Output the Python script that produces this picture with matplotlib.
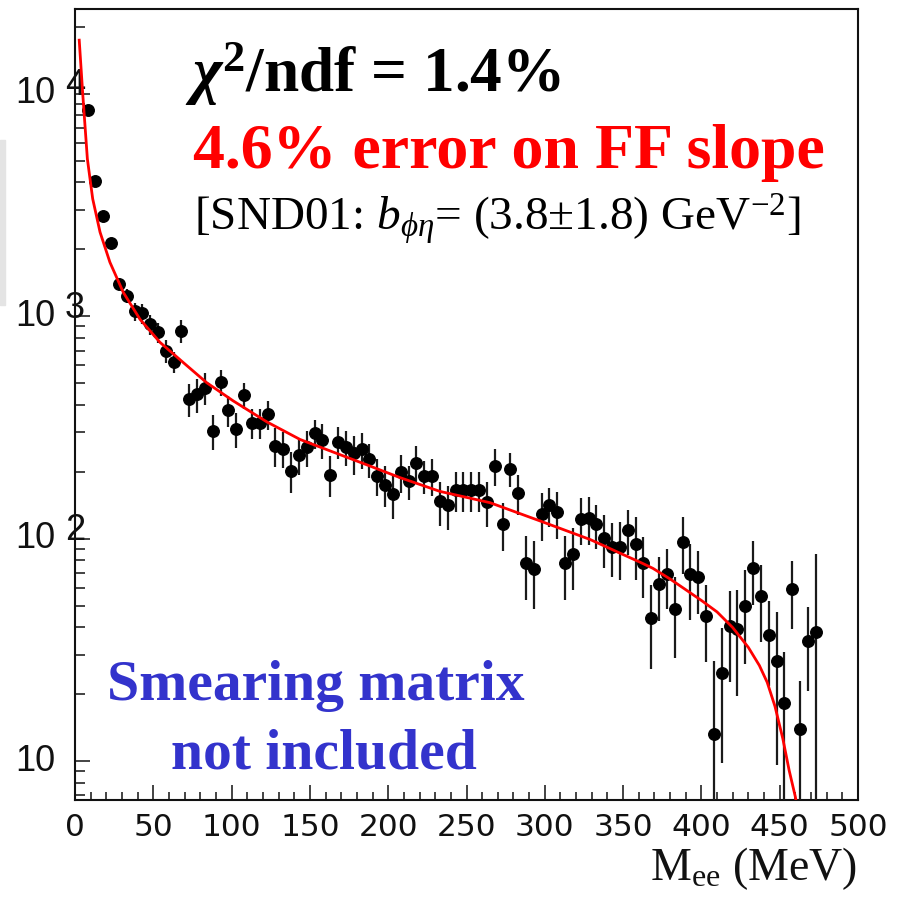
import matplotlib
matplotlib.use("Agg")
import matplotlib.pyplot as plt
import matplotlib.transforms as mtransforms
from matplotlib.patches import Rectangle
from matplotlib.ticker import MultipleLocator, LogLocator, NullFormatter, FixedLocator

# ---------------- data ----------------
mass = [8, 13, 18, 23, 28, 33, 38, 43, 48, 53, 58, 63, 68, 73, 78, 83, 88, 93, 98, 103,
        108, 113, 118, 123, 128, 133, 138, 143, 148, 153, 158, 163, 168, 173, 178, 183,
        188, 193, 198, 203, 208, 213, 218, 223, 228, 233, 238, 243, 248, 253, 258, 263,
        268, 273, 278, 283, 288, 293, 298, 303, 308, 313, 318, 323, 328, 333, 338, 343,
        348, 353, 358, 363, 368, 373, 378, 383, 388, 393, 398, 403, 408, 413, 418, 423,
        428, 433, 438, 443, 448, 453, 458, 463, 468, 473]
counts = [8470, 4064, 2833, 2133, 1393, 1233, 1050, 1028, 920, 845, 698, 622, 859, 423,
          445, 477, 304, 506, 378, 310, 441, 330, 330, 362, 261, 254, 202, 237, 258, 297,
          277, 194, 272, 258, 242, 252, 227, 192, 175, 159, 199, 181, 219, 191, 191, 147,
          141, 165, 166, 166, 166, 146, 213, 116, 206, 161, 78, 73, 129, 141, 131, 78, 85,
          123, 124, 116, 101, 92, 92, 109, 95, 78, 44, 62.5, 69, 48, 97, 69, 67, 45, 13.2,
          24.8, 40.3, 39.3, 49.9, 73.8, 55.3, 37, 28.3, 18.2, 59.3, 14, 34.8, 38.2]
errors = [150, 110, 85, 70, 87, 90, 98, 105, 96, 88, 80, 65, 98, 70, 79, 79, 54, 68, 59,
          55, 60, 51, 51, 55, 52, 46, 42, 44, 48, 45, 50, 41, 44, 46, 48, 47, 40, 36, 36,
          36, 39, 32, 41, 32, 36, 33, 32, 34, 34, 34, 34, 33, 40, 28, 36, 33, 25, 25, 31,
          28, 31, 25, 26, 29, 30, 26, 27, 25, 27, 25, 30, 24, 18, 20, 21, 19, 28, 26, 21,
          17, 15, 15, 17.6, 19.6, 22.6, 23.5, 21, 15.3, 18.7, 12.6, 20, 9, 14.2, 47]

fit_x = [2.7, 4.9, 7.9, 11.3, 16, 22.3, 30.8, 41.5, 54.3, 69.2, 84.1, 101, 122.4, 143.7,
         152, 186, 207.5, 233, 265, 297, 329, 348, 361, 369, 380, 390, 400, 410, 420,
         430, 437, 442, 447, 452, 456, 460, 462]
fit_y = [17400, 10070, 5090, 3367, 2384, 1746, 1280, 968, 762, 618, 502, 416, 335, 279,
         265, 215, 188, 163, 145, 120, 99, 86, 78.2, 73.5, 65.8, 58.9, 52.7, 46.8, 39.8,
         32.4, 26.9, 22.6, 17.6, 12.6, 9.1, 6.9, 5.75]

xtick_vals = [0, 50, 100, 150, 200, 250, 300, 350, 400, 450, 500]
ytick_vals = [10, 100, 1000, 10000]
ytick_exps = ["", "2", "3", "4"]

# ---------------- style ----------------
plt.rcParams['mathtext.fontset'] = 'custom'
plt.rcParams['mathtext.rm'] = 'Liberation Serif'
plt.rcParams['mathtext.it'] = 'Liberation Serif:italic'
plt.rcParams['mathtext.bf'] = 'Liberation Serif:bold'
plt.rcParams['mathtext.bfit'] = 'Liberation Serif:italic:bold'

W, H = 899, 897
fig = plt.figure(figsize=(W / 100, H / 100), dpi=100)


def fx(x):
    return x / W


def fy(y):
    return 1 - y / H


# light grey band at far left (slide artefact)
fig.patches.append(Rectangle((0, fy(305)), fx(5), (305 - 140) / H,
                             transform=fig.transFigure, color='#e4e4e4', zorder=0))

ax = fig.add_axes([fx(75), fy(800), (858 - 75) / W, (800 - 9.5) / H])
ax.set_yscale('log')
ax.set_xlim(0, 500)
ax.set_ylim(6.68, 23900)

ax.errorbar(mass, counts, yerr=errors, fmt='o', color='black', ecolor='#1a1a1a',
            elinewidth=1.6, markersize=8.3, capsize=0, zorder=3)
ax.plot(fit_x, fit_y, color='#ff0000', lw=2.0, zorder=4)

# axes frame
for s in ax.spines.values():
    s.set_linewidth(1.5)
    s.set_color('#111111')

ax.xaxis.set_major_locator(FixedLocator(xtick_vals))
ax.xaxis.set_minor_locator(MultipleLocator(10))
ax.tick_params(axis='x', which='major', direction='in', length=11, width=1.1,
               top=False, labelsize=22.5, pad=9, colors='#111111')
ax.tick_params(axis='x', which='minor', direction='in', length=6, width=1.1, top=False,
               colors='#111111')
for lab in ax.get_xticklabels():
    lab.set_fontfamily('DejaVu Sans')

ax.yaxis.set_major_locator(FixedLocator(ytick_vals))
ax.yaxis.set_minor_locator(LogLocator(base=10, subs=[2, 3, 4, 5, 6, 7, 8, 9], numticks=20))
ax.yaxis.set_major_formatter(NullFormatter())
ax.yaxis.set_minor_formatter(NullFormatter())
ax.tick_params(axis='y', which='major', direction='in', length=11, width=1.1, right=False,
               colors='#111111')
ax.tick_params(axis='y', which='minor', direction='in', length=7, width=1.1, right=False,
               colors='#111111')

# ROOT-style y labels: "10" with a large raised exponent
ytrans = ax.get_yaxis_transform()
for v, e in zip(ytick_vals, ytick_exps):
    t_base = mtransforms.offset_copy(ytrans, fig=fig, x=-20, y=0, units='dots')
    ax.text(0, v, "10", transform=t_base, ha='right', va='center',
            fontsize=26, family='Liberation Sans', color='#111111')
    if e:
        t_exp = mtransforms.offset_copy(ytrans, fig=fig, x=-10, y=8, units='dots')
        ax.text(0, v, e, transform=t_exp, ha='left', va='center',
                fontsize=26, family='Liberation Sans', color='#111111')

# axis title
fig.text(fx(857), fy(880), r"M$_{\mathrm{ee}}$ (MeV)", ha='right', va='baseline',
         fontsize=33, family='Liberation Serif', color='#111111')

# annotations
fig.text(fx(185), fy(92), r"$\mathbfit{\chi}^{\mathbf{2}}$/ndf = 1.4%", ha='left',
         va='baseline', fontsize=45.5, family='Liberation Serif', weight='bold', color='black')
fig.text(fx(193), fy(168), "4.6% error on FF slope", ha='left', va='baseline',
         fontsize=46, family='Liberation Serif', weight='bold', color='#ff0000')
fig.text(fx(194), fy(230), r"[SND01: $b_{\phi\eta}$= (3.8±1.8) GeV$^{-2}$]", ha='left',
         va='baseline', fontsize=34, family='Liberation Serif', color='black')
fig.text(fx(316), fy(700), "Smearing matrix", ha='center', va='baseline',
         fontsize=41.5, family='Liberation Serif', weight='bold', color='#3333cc')
fig.text(fx(324), fy(768), "not included", ha='center', va='baseline',
         fontsize=41.5, family='Liberation Serif', weight='bold', color='#3333cc')

fig.savefig("out.png", dpi=100)
